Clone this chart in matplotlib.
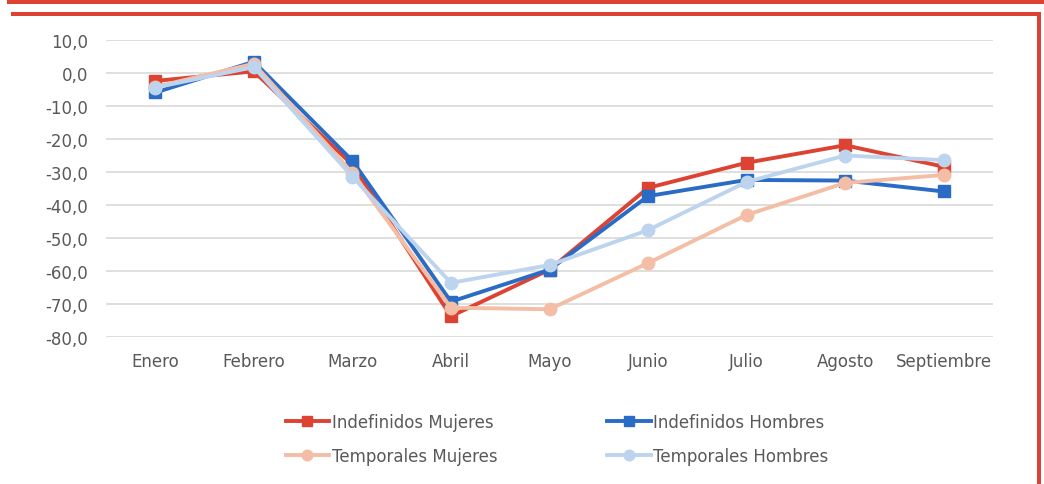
import matplotlib
matplotlib.use('Agg')
import matplotlib.pyplot as plt
from matplotlib.patches import Rectangle
from matplotlib.ticker import FuncFormatter, MultipleLocator

meses = ['Enero', 'Febrero', 'Marzo', 'Abril', 'Mayo', 'Junio', 'Julio', 'Agosto', 'Septiembre']

indef_mujeres = [-2.4, 0.5, -27.8, -73.7, -59.6, -34.8, -27.2, -21.9, -28.4]
indef_hombres = [-5.9, 3.4, -26.6, -69.3, -59.6, -37.3, -32.4, -32.6, -35.9]
temp_mujeres = [-4.2, 2.8, -30.3, -71.1, -71.6, -57.6, -43.0, -33.3, -30.9]
temp_hombres = [-4.4, 1.8, -31.4, -63.6, -58.2, -47.6, -33.0, -25.0, -26.4]

series = [
    ('Indefinidos Mujeres', indef_mujeres, '#DC4333', 's'),
    ('Indefinidos Hombres', indef_hombres, '#2A6CC5', 's'),
    ('Temporales Mujeres', temp_mujeres, '#F3BEA5', 'o'),
    ('Temporales Hombres', temp_hombres, '#BDD4EF', 'o'),
]

text_color = '#595959'
plt.rcParams['font.family'] = ['DejaVu Sans']
plt.rcParams['font.size'] = 12

W, H = 1044, 485
fig = plt.figure(figsize=(W / 100, H / 100), dpi=100)
ax = fig.add_axes([106 / W, 1 - 338 / H, (993 - 106) / W, (338 - 41) / H])

x = list(range(len(meses)))
handles = []
for label, vals, color, marker in series:
    ln, = ax.plot(x, vals, color=color, lw=2.8, marker=marker,
                  markersize=9 if marker == 'o' else 8.5, label=label, zorder=3)
    handles.append(ln)

ax.set_xlim(-0.5, len(meses) - 0.5)
ax.set_ylim(-80, 10)
ax.yaxis.set_major_locator(MultipleLocator(10))
ax.yaxis.set_major_formatter(FuncFormatter(lambda v, p: ('%.1f' % v).replace('.', ',')))
ax.set_xticks(x)
ax.set_xticklabels(meses)
ax.grid(axis='y', color='#d9d9d9', lw=1.2)
ax.set_axisbelow(True)
for s in ax.spines.values():
    s.set_visible(False)
ax.tick_params(length=0, colors=text_color, labelsize=12)
ax.tick_params(axis='x', pad=11)
ax.tick_params(axis='y', pad=13)

# legend fills by column, so reorder to get rows like the original
order = [0, 2, 1, 3]
fig.legend([handles[i] for i in order], [series[i][0] for i in order],
           loc='center', bbox_to_anchor=(557 / W, 1 - 440 / H), ncol=2,
           frameon=False, fontsize=12, labelcolor=text_color,
           handlelength=2.6, handletextpad=0.15, columnspacing=6.6,
           labelspacing=0.95, markerscale=0.85)

# red frame pieces at the top and right
red = '#DC4333'
def px_rect(x0, y0, x1, y1):
    fig.patches.append(Rectangle((x0 / W, 1 - y1 / H), (x1 - x0) / W, (y1 - y0) / H,
                                 transform=fig.transFigure, color=red, lw=0))

px_rect(7, 0, 1044, 5)
px_rect(11, 13, 1040.5, 16.5)
px_rect(1036.7, 13, 1040.7, 485)

fig.savefig('out.png', dpi=100)
